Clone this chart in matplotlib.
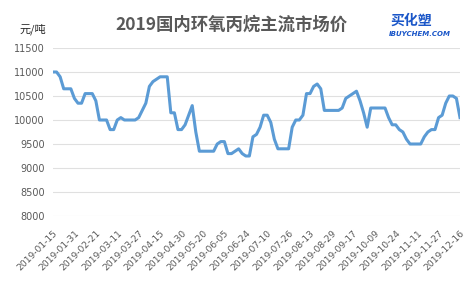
import matplotlib.pyplot as plt
import numpy as np

# 日期标签 (每6个点一个)
fechas = ['2019-01-15', '2019-01-31', '2019-02-21', '2019-03-11', '2019-03-27',
          '2019-04-15', '2019-04-30', '2019-05-20', '2019-06-05', '2019-06-24',
          '2019-07-10', '2019-07-26', '2019-08-13', '2019-08-29', '2019-09-17',
          '2019-10-09', '2019-10-24', '2019-11-11', '2019-11-27', '2019-12-16']

# 价格 (元/吨)
precios = [11000, 11000, 10900, 10650, 10650, 10650, 10450, 10350, 10350, 10550,
           10550, 10550, 10400, 10000, 10000, 10000, 9800, 9800, 10000, 10050,
           10000, 10000, 10000, 10000, 10050, 10200, 10350, 10700, 10800, 10850,
           10900, 10900, 10900, 10150, 10150, 9800, 9800, 9900, 10100, 10300,
           9750, 9350, 9350, 9350, 9350, 9350, 9500, 9550, 9550, 9300,
           9300, 9350, 9400, 9300, 9250, 9250, 9650, 9700, 9850, 10100,
           10100, 9950, 9600, 9400, 9400, 9400, 9400, 9850, 10000, 10000,
           10100, 10550, 10550, 10700, 10750, 10650, 10200, 10200, 10200, 10200,
           10200, 10250, 10450, 10500, 10550, 10600, 10400, 10150, 9850, 10250,
           10250, 10250, 10250, 10250, 10050, 9900, 9900, 9800, 9750, 9600,
           9500, 9500, 9500, 9500, 9650, 9750, 9800, 9800, 10050, 10100,
           10350, 10500, 10500, 10450, 10050]

plt.rcParams['font.family'] = ['Noto Sans CJK SC', 'DejaVu Sans']

fig = plt.figure(figsize=(4.73, 2.83), dpi=100)
ax = fig.add_axes([53 / 473, 1 - 216 / 283, (460 - 53) / 473, (216 - 48) / 283])

x = np.arange(len(precios))
ax.plot(x, precios, color='#5b9bd5', linewidth=2.2, solid_joinstyle='round', zorder=3)

ax.set_xlim(0, len(precios) - 1)
ax.set_ylim(8000, 11500)
ax.set_yticks(range(8000, 11501, 500))
ax.grid(axis='y', color='#e0e0e0', linewidth=0.8)
for s in ax.spines.values():
    s.set_visible(False)

# etiquetas del eje x, cada 6 puntos
paso = (len(precios) - 1) // (len(fechas) - 1)
ax.set_xticks(range(0, len(precios), paso))
ax.set_xticklabels(fechas, rotation=45, ha='right', va='top',
                   rotation_mode='anchor', fontsize=6.6, color='#595959',
                   family='DejaVu Sans')
ax.tick_params(axis='both', length=0)
ax.tick_params(axis='x', pad=9)
ax.tick_params(axis='y', labelsize=7, labelcolor='#595959', pad=6)
for t in ax.get_yticklabels():
    t.set_family('DejaVu Sans')

fig.text(231 / 473, 1 - 25 / 283, '2019国内环氧丙烷主流市场价', ha='center', va='center',
         fontsize=12.5, fontweight='bold', color='#595959')
fig.text(33 / 473, 1 - 29 / 283, '元/吨', ha='center', va='center',
         fontsize=8, color='#262626')

# logo
fig.text(411 / 473, 1 - 21 / 283, '买化塑', ha='center', va='center', fontsize=10,
         fontweight='bold', style='italic', color='#1a56c8')
fig.text(420 / 473, 1 - 34 / 283, 'IBUYCHEM.COM', ha='center', va='center',
         fontsize=5, fontweight='bold', style='italic', color='#1a56c8',
         family='DejaVu Sans')

plt.savefig('out.png', dpi=100)
plt.close()
